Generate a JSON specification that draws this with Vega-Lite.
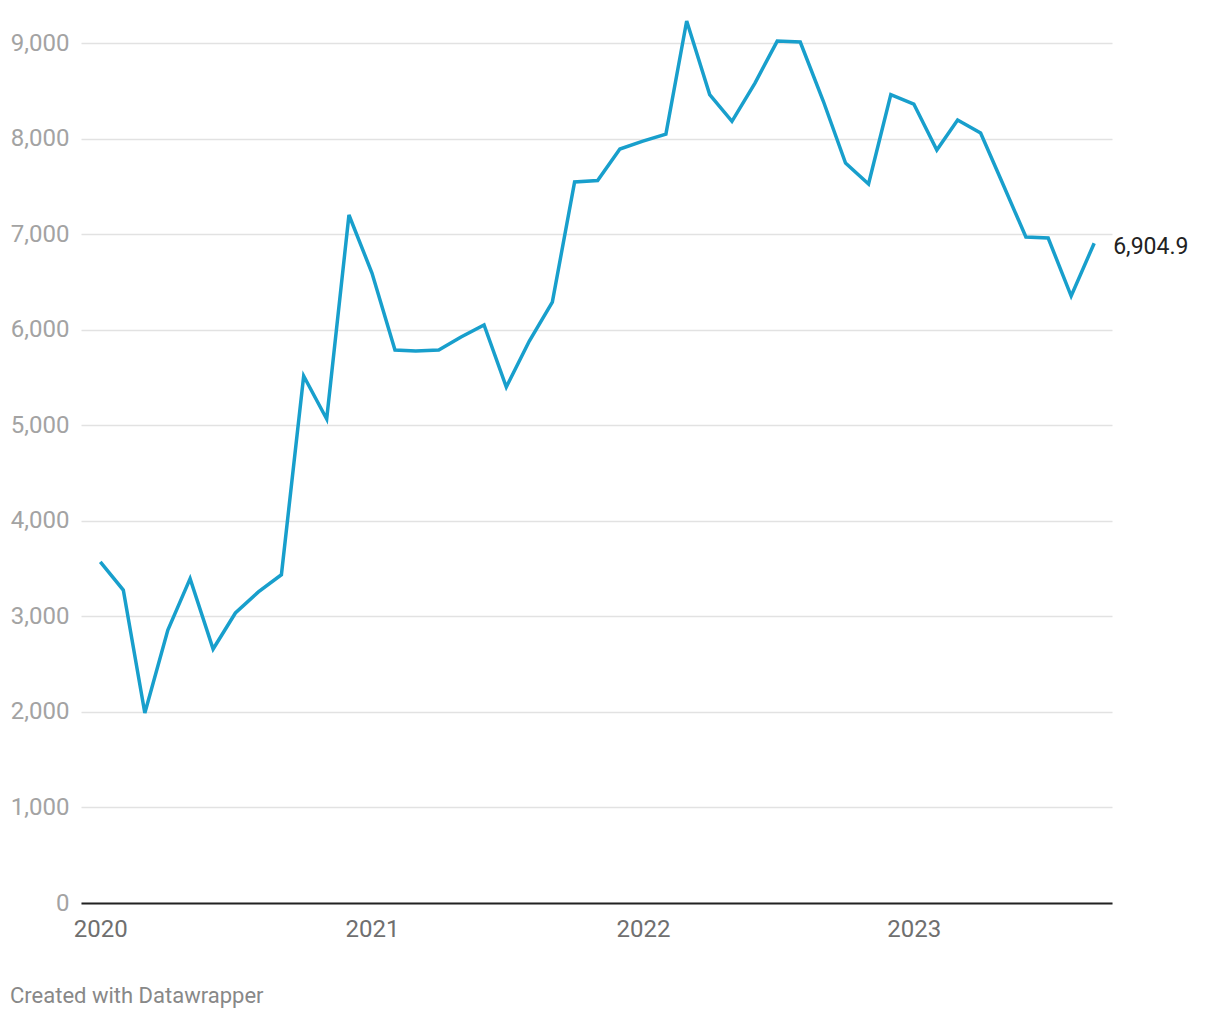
{
  "$schema": "https://vega.github.io/schema/vega-lite/v6.json",
  "autosize": {"type": "none"},
  "width": 1031,
  "height": 860,
  "padding": {"left": 81, "top": 43, "right": 108, "bottom": 117},
  "background": "white",
  "config": {
    "view": {"stroke": null},
    "font": "Roboto"
  },
  "title": {
    "text": "Created with Datawrapper",
    "orient": "bottom",
    "anchor": "start",
    "frame": "group",
    "fontSize": 22,
    "fontWeight": "normal",
    "color": "#888888",
    "font": "Roboto",
    "offset": 45,
    "dx": -71
  },
  "data": {
    "values": [
      {"date": "2020-01-01", "value": 3570},
      {"date": "2020-02-01", "value": 3275},
      {"date": "2020-03-01", "value": 1988},
      {"date": "2020-04-01", "value": 2857},
      {"date": "2020-05-01", "value": 3395},
      {"date": "2020-06-01", "value": 2658},
      {"date": "2020-07-01", "value": 3035},
      {"date": "2020-08-01", "value": 3255},
      {"date": "2020-09-01", "value": 3435},
      {"date": "2020-10-01", "value": 5515},
      {"date": "2020-11-01", "value": 5065},
      {"date": "2020-12-01", "value": 7200},
      {"date": "2021-01-01", "value": 6593},
      {"date": "2021-02-01", "value": 5787},
      {"date": "2021-03-01", "value": 5777},
      {"date": "2021-04-01", "value": 5787},
      {"date": "2021-05-01", "value": 5923},
      {"date": "2021-06-01", "value": 6049},
      {"date": "2021-07-01", "value": 5400},
      {"date": "2021-08-01", "value": 5881},
      {"date": "2021-09-01", "value": 6289},
      {"date": "2021-10-01", "value": 7545},
      {"date": "2021-11-01", "value": 7560},
      {"date": "2021-12-01", "value": 7890},
      {"date": "2022-01-01", "value": 7974},
      {"date": "2022-02-01", "value": 8047},
      {"date": "2022-03-01", "value": 9230},
      {"date": "2022-04-01", "value": 8460},
      {"date": "2022-05-01", "value": 8180},
      {"date": "2022-06-01", "value": 8581},
      {"date": "2022-07-01", "value": 9020},
      {"date": "2022-08-01", "value": 9010},
      {"date": "2022-09-01", "value": 8393},
      {"date": "2022-10-01", "value": 7744},
      {"date": "2022-11-01", "value": 7524},
      {"date": "2022-12-01", "value": 8460},
      {"date": "2023-01-01", "value": 8361},
      {"date": "2023-02-01", "value": 7880},
      {"date": "2023-03-01", "value": 8194},
      {"date": "2023-04-01", "value": 8058},
      {"date": "2023-05-01", "value": 7524},
      {"date": "2023-06-01", "value": 6970},
      {"date": "2023-07-01", "value": 6959},
      {"date": "2023-08-01", "value": 6352},
      {"date": "2023-09-01", "value": 6904.9, "label": "6,904.9"}
    ]
  },
  "encoding": {
    "x": {
      "field": "date",
      "type": "temporal",
      "scale": {
        "type": "utc",
        "domain": [
          {"year": 2019, "month": 12, "date": 6, "utc": true},
          {"year": 2023, "month": 9, "date": 25, "utc": true}
        ]
      },
      "axis": {
        "title": null,
        "format": "%Y",
        "tickCount": {"interval": "year", "step": 1},
        "grid": false,
        "ticks": false,
        "domain": true,
        "domainColor": "#222222",
        "domainWidth": 2,
        "labelFontSize": 24,
        "labelColor": "#6f6f6f",
        "labelPadding": 14,
        "labelFont": "Roboto"
      }
    },
    "y": {
      "field": "value",
      "type": "quantitative",
      "scale": {"domain": [0, 9000], "nice": false},
      "axis": {
        "title": null,
        "values": [0, 1000, 2000, 3000, 4000, 5000, 6000, 7000, 8000, 9000],
        "format": ",.0f",
        "grid": true,
        "gridColor": "#e2e2e2",
        "gridWidth": 1.5,
        "ticks": false,
        "domain": false,
        "labelFontSize": 24,
        "labelColor": "#a3a3a3",
        "labelPadding": 12,
        "labelFont": "Roboto"
      }
    }
  },
  "layer": [
    {
      "mark": {"type": "line", "color": "#189fcc", "strokeWidth": 3.5, "clip": false, "strokeJoin": "miter"}
    },
    {
      "transform": [{"filter": "isValid(datum.label)"}],
      "mark": {"type": "text", "align": "left", "baseline": "middle", "dx": 19, "dy": 4, "fontSize": 23, "color": "#222222", "font": "Roboto"},
      "encoding": {"text": {"field": "label"}}
    }
  ]
}
